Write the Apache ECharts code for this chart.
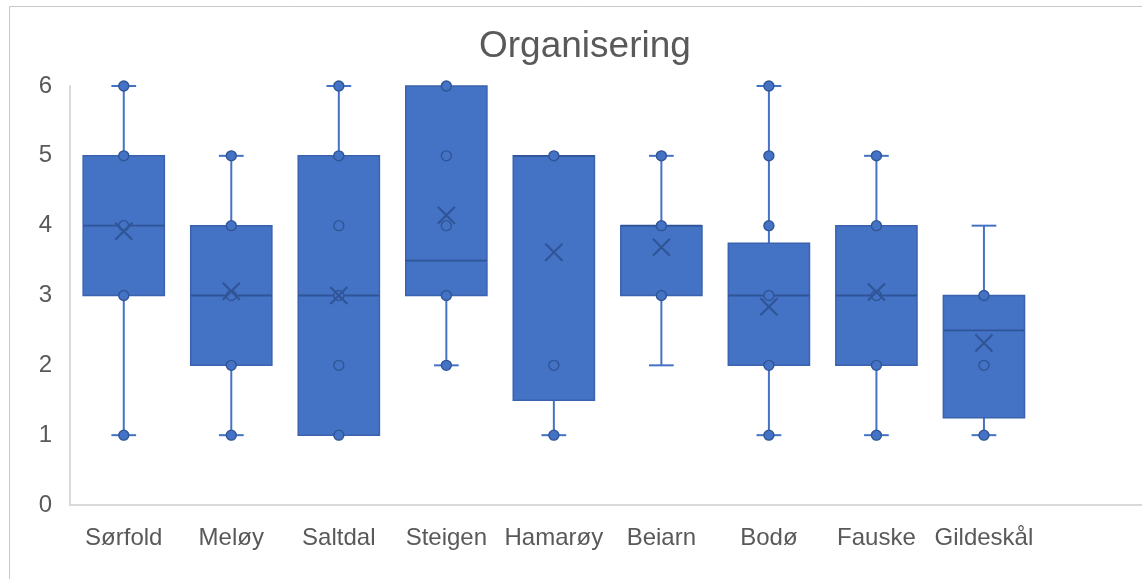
<!DOCTYPE html>
<html>
<head>
<meta charset="utf-8">
<title>Organisering</title>
<script src="https://cdn.jsdelivr.net/npm/echarts@6/dist/echarts.min.js"></script>
<style>
  html, body { margin: 0; padding: 0; background: #ffffff; }
  #chart { width: 1142px; height: 579px; }
</style>
</head>
<body>
<div id="chart"></div>
<script>
// Municipalities on the category axis
const categories = ['Sørfold', 'Meløy', 'Saltdal', 'Steigen', 'Hamarøy', 'Beiarn', 'Bodø', 'Fauske', 'Gildeskål'];

// Box-and-whisker statistics per municipality
const whiskerLow  = [1, 1, 1, 2, 1, 2, 1, 1, 1];
const quartile1   = [3, 2, 1, 3, 1.5, 3, 2, 2, 1.25];
const medians     = [4, 3, 3, 3.5, 5, 4, 3, 3, 2.5];
const quartile3   = [5, 4, 5, 6, 5, 4, 3.75, 4, 3];
const whiskerHigh = [6, 5, 6, 6, 5, 5, 6, 5, 4];
const means       = [3.92, 3.06, 3.0, 4.15, 3.62, 3.69, 2.84, 3.05, 2.32];

// Individual response values shown as dots
const pointsSorfold   = [1, 3, 4, 5, 6];
const pointsMeloy     = [1, 2, 3, 4, 5];
const pointsSaltdal   = [1, 2, 3, 4, 5, 6];
const pointsSteigen   = [2, 3, 4, 5, 6];
const pointsHamaroy   = [1, 2, 5];
const pointsBeiarn    = [3, 4, 5];
const pointsBodo      = [1, 2, 3, 4, 5, 6];
const pointsFauske    = [1, 2, 3, 4, 5];
const pointsGildeskal = [1, 2, 3];
const points = [pointsSorfold, pointsMeloy, pointsSaltdal, pointsSteigen, pointsHamaroy,
                pointsBeiarn, pointsBodo, pointsFauske, pointsGildeskal];

// Value-axis ticks
const yTicks = [0, 1, 2, 3, 4, 5, 6];

const BLUE = '#4472C4';
const DARK = '#2F5597';
const TEXT = '#595959';
const FONT = '"Liberation Sans", Arial, sans-serif';

// Each category sits in the middle of its slot: slot i spans [i, i+1]
const boxData = categories.map((c, i) => [i + 0.5, whiskerLow[i], quartile1[i], medians[i], quartile3[i], whiskerHigh[i]]);
const pointData = [];
points.forEach((arr, i) => arr.forEach(v => pointData.push([i + 0.5, v])));
const meanData = means.map((m, i) => [i + 0.5, m]);

function renderBox(params, api) {
  const x = api.value(0);
  const lo = api.value(1), q1 = api.value(2), md = api.value(3), q3 = api.value(4), hi = api.value(5);
  const pLo = api.coord([x, lo]);
  const pQ1 = api.coord([x, q1]);
  const pMd = api.coord([x, md]);
  const pQ3 = api.coord([x, q3]);
  const pHi = api.coord([x, hi]);
  const band = api.size([1, 0])[0];
  const bw = band * 0.755;
  const cw = band * 0.23;
  const cx = pMd[0];
  const whisker = { stroke: BLUE, lineWidth: 2 };
  const children = [];
  if (hi > q3) {
    children.push({ type: 'line', shape: { x1: cx, y1: pQ3[1], x2: cx, y2: pHi[1] }, style: whisker });
    children.push({ type: 'line', shape: { x1: cx - cw / 2, y1: pHi[1], x2: cx + cw / 2, y2: pHi[1] }, style: whisker });
  }
  if (lo < q1) {
    children.push({ type: 'line', shape: { x1: cx, y1: pQ1[1], x2: cx, y2: pLo[1] }, style: whisker });
    children.push({ type: 'line', shape: { x1: cx - cw / 2, y1: pLo[1], x2: cx + cw / 2, y2: pLo[1] }, style: whisker });
  }
  children.push({
    type: 'rect',
    shape: { x: cx - bw / 2, y: pQ3[1], width: bw, height: pQ1[1] - pQ3[1] },
    style: { fill: BLUE, stroke: '#3A62AE', lineWidth: 1.5 }
  });
  children.push({
    type: 'line',
    shape: { x1: cx - bw / 2, y1: pMd[1], x2: cx + bw / 2, y2: pMd[1] },
    style: { stroke: DARK, lineWidth: 1.8 }
  });
  return { type: 'group', children };
}

const chart = echarts.init(document.getElementById('chart'), null, { renderer: 'canvas' });
chart.setOption({
  animation: false,
  backgroundColor: '#ffffff',
  title: {
    text: 'Organisering',
    left: 474,
    top: 23,
    textStyle: { fontFamily: FONT, fontSize: 37, fontWeight: 'normal', color: TEXT }
  },
  graphic: [{
    type: 'rect',
    silent: true,
    shape: { x: 9.5, y: 6.5, width: 1300, height: 800 },
    style: { fill: 'none', stroke: '#c9c9c9', lineWidth: 1 }
  }],
  grid: { left: 70, right: 0, top: 86, bottom: 74, containLabel: false },
  xAxis: {
    type: 'value',
    min: 0,
    max: 9.97,
    interval: 0.5,
    axisLine: { show: true, lineStyle: { color: '#d9d9d9', width: 2 } },
    axisTick: { show: false },
    splitLine: { show: false },
    axisLabel: {
      margin: 21,
      fontFamily: FONT,
      fontSize: 24,
      color: TEXT,
      showMinLabel: false,
      showMaxLabel: false,
      formatter: function (v) {
        const k = v - 0.5;
        const r = Math.round(k);
        if (Math.abs(k - r) < 1e-6 && r >= 0 && r < categories.length) return categories[r];
        return '';
      }
    }
  },
  yAxis: {
    type: 'value',
    min: yTicks[0],
    max: yTicks[yTicks.length - 1],
    interval: 1,
    axisLine: { show: true, lineStyle: { color: '#d9d9d9', width: 2 } },
    axisTick: { show: false },
    splitLine: { show: false },
    axisLabel: { margin: 18, fontFamily: FONT, fontSize: 24, color: TEXT }
  },
  series: [
    {
      type: 'custom',
      renderItem: renderBox,
      data: boxData,
      encode: { x: 0, y: [1, 2, 3, 4, 5] },
      z: 2
    },
    {
      type: 'scatter',
      data: pointData,
      symbol: 'circle',
      symbolSize: 10,
      itemStyle: { color: BLUE, borderColor: DARK, borderWidth: 1.4, opacity: 1 },
      z: 3
    },
    {
      type: 'scatter',
      data: meanData,
      symbol: 'path://M0 0L16 16M16 0L0 16',
      symbolSize: 17,
      itemStyle: { color: 'none', borderColor: DARK, borderWidth: 2.2, opacity: 1 },
      z: 4
    }
  ]
});
</script>
</body>
</html>
